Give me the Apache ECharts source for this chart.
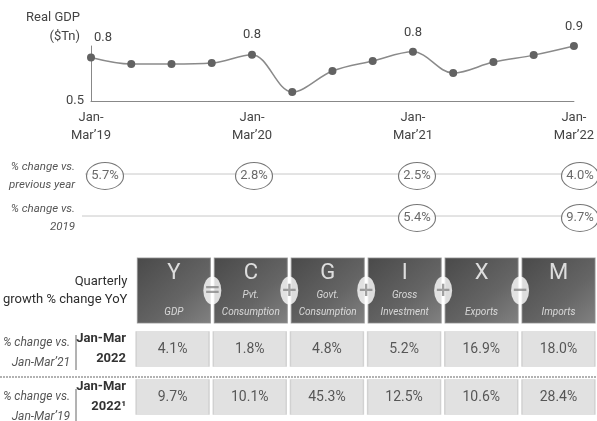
<!DOCTYPE html>
<html>
<head>
<meta charset="utf-8">
<script src="https://cdn.jsdelivr.net/npm/echarts@6/dist/echarts.min.js"></script>
<style>
  html, body { margin: 0; padding: 0; background: #fff; }
  #main { width: 597px; height: 421px; }
</style>
</head>
<body>
<div id="main"></div>
<script>
var FONT = "Roboto, 'Liberation Sans', sans-serif";

// quarterly real GDP, $Tn
var quarters = ['Jan-Mar’19', 'Apr-Jun’19', 'Jul-Sep’19', 'Oct-Dec’19',
  'Jan-Mar’20', 'Apr-Jun’20', 'Jul-Sep’20', 'Oct-Dec’20',
  'Jan-Mar’21', 'Apr-Jun’21', 'Jul-Sep’21', 'Oct-Dec’21', 'Jan-Mar’22'];
var gdp = [0.80, 0.755, 0.755, 0.762, 0.82, 0.562, 0.707, 0.776, 0.84, 0.693, 0.769, 0.817, 0.88];

// circled % changes (Jan-Mar quarters only)
var circleIdx = [0, 4, 8, 12];
var chgPrevYear = [5.7, 2.8, 2.5, 4.0];
var chg2019Idx = [8, 12];
var chg2019 = [5.4, 9.7];
var chgRows = ['% change vs.\nprevious year', '% change vs.\n2019'];

// table
var comps = ['Y', 'C', 'G', 'I', 'X', 'M'];
var compNames = ['GDP', 'Pvt.\nConsumption', 'Govt.\nConsumption', 'Gross\nInvestment', 'Exports', 'Imports'];
var ops = ['=', '+', '+', '+', '−'];
var tblRows = ['Jan-Mar\n2022', 'Jan-Mar\n2022¹'];
var vsJanMar21 = [4.1, 1.8, 4.8, 5.2, 16.9, 18.0];
var vsJanMar19 = [9.7, 10.1, 45.3, 12.5, 10.6, 28.4];

var myChart = echarts.init(document.getElementById('main'));

var circleData = [];
chgPrevYear.forEach(function (v, i) {
  var d = { value: [circleIdx[i], 0, v] };
  if (i === 0) d.symbolOffset = [14, 0];
  circleData.push(d);
});
chg2019.forEach(function (v, i) {
  circleData.push({ value: [chg2019Idx[i], 1, v] });
});

var cellData = [];
vsJanMar21.forEach(function (v, i) { cellData.push([i, 0, v]); });
vsJanMar19.forEach(function (v, i) { cellData.push([i, 1, v]); });

var boxFill = new echarts.graphic.LinearGradient(0, 0, 1, 1, [
  { offset: 0, color: '#1c1c1c' },
  { offset: 0.6, color: '#3e3e3e' },
  { offset: 1, color: '#626262' }
]);

option = {
  animation: false,
  textStyle: { fontFamily: FONT },
  grid: [
    { left: 91, right: 17, top: 46, height: 55 },
    { left: 91, right: 17, top: 155, height: 84 },
    { left: 134, width: 467, top: 258, height: 65 },
    { left: 134, width: 467, top: 325, height: 106 }
  ],
  xAxis: [
    {
      gridIndex: 0, type: 'category', data: quarters, boundaryGap: false,
      axisLine: { lineStyle: { color: '#888' } },
      axisTick: { show: false },
      axisLabel: {
        interval: 3, margin: 8, color: '#444', fontSize: 13, lineHeight: 18, fontFamily: FONT,
        formatter: function (v) { return v.replace('-', '-\n'); }
      }
    },
    { gridIndex: 1, type: 'category', data: quarters, boundaryGap: false, show: false },
    { gridIndex: 2, type: 'category', data: comps, show: false },
    { gridIndex: 2, type: 'value', min: 0, max: 6, show: false },
    { gridIndex: 3, type: 'category', data: comps, show: false }
  ],
  yAxis: [
    {
      gridIndex: 0, type: 'value', min: 0.5, max: 0.88,
      splitLine: { show: false },
      axisLine: { show: true, lineStyle: { color: '#888' } },
      axisTick: { show: false },
      axisLabel: {
        color: '#444', fontSize: 13, margin: 7, fontFamily: FONT,
        formatter: function (v) { return Math.abs(v - 0.5) < 1e-9 ? '0.5' : ''; }
      }
    },
    {
      gridIndex: 1, type: 'category', data: chgRows, inverse: true,
      axisLine: { show: false }, axisTick: { show: false },
      axisLabel: { margin: 16, color: '#555', fontSize: 11.5, fontStyle: 'italic', lineHeight: 18, align: 'right', fontFamily: FONT }
    },
    {
      gridIndex: 2, type: 'category', data: ['Quarterly\ngrowth % change YoY'],
      axisLine: { show: false }, axisTick: { show: false },
      axisLabel: { margin: 8, color: '#2e2e2e', fontSize: 13, lineHeight: 18, align: 'right', fontFamily: FONT }
    },
    {
      gridIndex: 3, type: 'category', data: tblRows, inverse: true,
      axisLine: { show: false }, axisTick: { show: false },
      axisLabel: { margin: 8, color: '#333', fontSize: 13, fontWeight: 'bold', lineHeight: 20, align: 'right', fontFamily: FONT }
    }
  ],
  graphic: [
    {
      type: 'text', x: 80, y: 8, z: 0,
      style: { text: 'Real GDP\n($Tn)', align: 'right', fill: '#444', font: '13px ' + FONT, lineHeight: 19 }
    },
    { type: 'line', z: 0, shape: { x1: 85, y1: 174, x2: 580, y2: 174 }, style: { stroke: '#c8c8c8', lineWidth: 1 } },
    { type: 'line', z: 0, shape: { x1: 82, y1: 216, x2: 580, y2: 216 }, style: { stroke: '#c8c8c8', lineWidth: 1 } },
    { type: 'line', z: 0, shape: { x1: 0, y1: 377, x2: 597, y2: 377 }, style: { stroke: '#999', lineWidth: 1.5, lineDash: [2, 1] } },
    { type: 'line', z: 0, shape: { x1: 76, y1: 335, x2: 76, y2: 370 }, style: { stroke: '#666', lineWidth: 1 } },
    { type: 'line', z: 0, shape: { x1: 76, y1: 389, x2: 76, y2: 421 }, style: { stroke: '#666', lineWidth: 1 } },
    {
      type: 'text', x: 70, y: 333, z: 0,
      style: { text: '% change vs.\nJan-Mar’21', align: 'right', fill: '#555', font: 'italic 12px ' + FONT, lineHeight: 20 }
    },
    {
      type: 'text', x: 70, y: 387, z: 0,
      style: { text: '% change vs.\nJan-Mar’19', align: 'right', fill: '#555', font: 'italic 12px ' + FONT, lineHeight: 20 }
    }
  ],
  series: [
    {
      type: 'line', xAxisIndex: 0, yAxisIndex: 0,
      data: gdp.map(function (v, i) {
        return i === 0 ? { value: v, label: { offset: [12, 0] } } : v;
      }),
      smooth: 0.35,
      symbol: 'circle', symbolSize: 8,
      lineStyle: { color: '#8a8a8a', width: 1.5 },
      itemStyle: { color: '#626262' },
      label: {
        show: true, position: 'top', distance: 9, color: '#444', fontSize: 13, fontFamily: FONT,
        formatter: function (p) { return p.dataIndex % 4 === 0 ? p.value.toFixed(1) : ''; }
      }
    },
    {
      type: 'scatter', xAxisIndex: 1, yAxisIndex: 1,
      data: circleData,
      symbol: 'circle', symbolSize: [37, 27],
      itemStyle: { color: '#fff', borderColor: '#555', borderWidth: 1 },
      label: {
        show: true, position: 'inside', color: '#444', fontSize: 13, fontFamily: FONT,
        formatter: function (p) { return p.value[2].toFixed(1) + '%'; }
      }
    },
    {
      type: 'scatter', xAxisIndex: 2, yAxisIndex: 2,
      data: comps.map(function (c, i) { return [i, 0, c, compNames[i]]; }),
      symbol: 'rect', symbolSize: [73, 65],
      itemStyle: { color: boxFill, borderColor: '#8c8c8c', borderWidth: 1 },
      label: {
        show: true, position: 'inside',
        formatter: function (p) {
          var sub = p.value[3].split('\n');
          if (sub.length < 2) sub.unshift(' ');
          return '{a|' + p.value[2] + '}\n{b|' + sub[0] + '}\n{b|' + sub[1] + '}';
        },
        rich: {
          a: { color: '#fff', fontSize: 22, lineHeight: 27, fontFamily: FONT },
          b: { color: '#f2f2f2', fontSize: 10, lineHeight: 17, fontStyle: 'italic', fontFamily: FONT }
        }
      }
    },
    {
      type: 'scatter', xAxisIndex: 3, yAxisIndex: 2, z: 3,
      data: ops.map(function (o, i) { return [i + 1, 0, o]; }),
      symbol: 'circle', symbolSize: [18, 28],
      itemStyle: { color: '#fff' },
      label: {
        show: true, position: 'inside', color: '#888', fontSize: 20, fontWeight: 'bold', fontFamily: 'DejaVu Sans',
        formatter: function (p) { return p.value[2]; }
      }
    },
    {
      type: 'scatter', xAxisIndex: 4, yAxisIndex: 3,
      data: cellData,
      symbol: 'rect', symbolSize: [73, 35],
      itemStyle: { color: '#d9d9d9', borderColor: '#cbcbcb', borderWidth: 1 },
      label: {
        show: true, position: 'inside', color: '#333', fontSize: 14, fontFamily: FONT,
        formatter: function (p) { return p.value[2].toFixed(1) + '%'; }
      }
    }
  ]
};
myChart.setOption(option);
</script>
</body>
</html>
